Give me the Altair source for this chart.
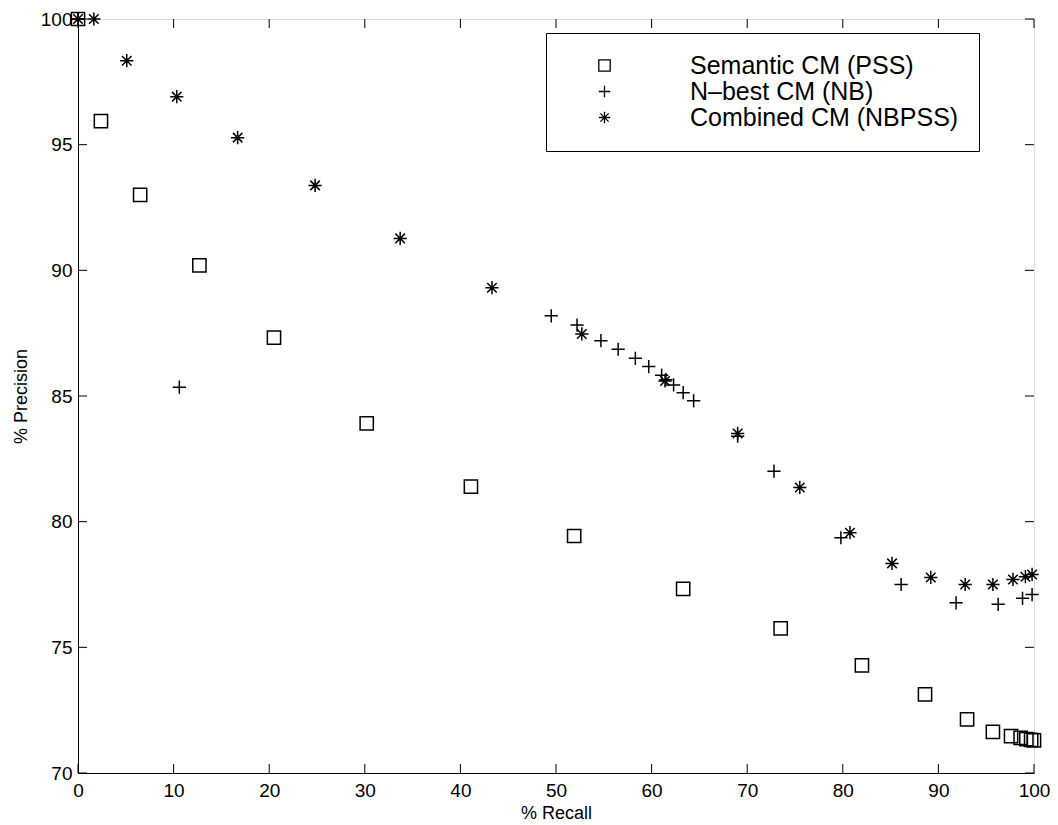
import altair as alt
import pandas as pd

# ---- data ----
series_names = ["Semantic CM (PSS)", "N–best CM (NB)", "Combined CM (NBPSS)"]

pss_x = [0, 2.4, 6.5, 12.7, 20.5, 30.2, 41.1, 51.9, 63.3, 73.5, 82.0, 88.6, 93.0, 95.7, 97.6, 98.6, 99.2, 99.7, 100.0]
pss_y = [100, 95.94, 93.0, 90.2, 87.32, 83.91, 81.39, 79.43, 77.33, 75.75, 74.28, 73.13, 72.13, 71.64, 71.47, 71.4, 71.35, 71.32, 71.3]

nb_x = [0, 10.6, 49.5, 52.2, 54.7, 56.5, 58.3, 59.7, 61.05, 61.5, 62.3, 63.3, 64.4, 69.0, 72.8, 79.8, 86.1, 91.85, 96.25, 98.8, 99.8]
nb_y = [100, 85.35, 88.19, 87.82, 87.2, 86.86, 86.5, 86.17, 85.83, 85.65, 85.44, 85.13, 84.81, 83.4, 82.01, 79.36, 77.5, 76.77, 76.71, 76.95, 77.1]

nbpss_x = [0, 1.66, 5.1, 10.33, 16.7, 24.8, 33.7, 43.3, 52.7, 61.4, 69.0, 75.5, 80.75, 85.15, 89.2, 92.8, 95.7, 97.8, 99.1, 99.8]
nbpss_y = [100, 100, 98.34, 96.91, 95.28, 93.38, 91.27, 89.31, 87.47, 85.6, 83.51, 81.36, 79.56, 78.34, 77.78, 77.5, 77.5, 77.7, 77.81, 77.9]

x_ticks = [0, 10, 20, 30, 40, 50, 60, 70, 80, 90, 100]
y_ticks = [70, 75, 80, 85, 90, 95, 100]

rows = []
for name, xs, ys in zip(series_names, [pss_x, nb_x, nbpss_x], [pss_y, nb_y, nbpss_y]):
    for a, b in zip(xs, ys):
        rows.append({"series": name, "recall": a, "precision": b})
df = pd.DataFrame(rows)

W, H = 956, 754
TICK = 9
FONT = "Liberation Sans"

xscale = alt.Scale(domain=[0, 100], nice=False, zero=False)
yscale = alt.Scale(domain=[70, 100], nice=False, zero=False)

x_axis = alt.Axis(values=x_ticks, title="% Recall", format="d", tickSize=0, grid=False,
                  labelFont=FONT, labelFontSize=19, labelColor="black", labelPadding=8,
                  titleFont=FONT, titleFontSize=18, titleFontWeight="normal", titleColor="black",
                  titlePadding=4, domainColor="black", labelFlush=False)
y_axis = alt.Axis(values=y_ticks, title="% Precision", format="d", tickSize=0, grid=False,
                  labelFont=FONT, labelFontSize=19, labelColor="black", labelPadding=6,
                  titleFont=FONT, titleFontSize=18, titleFontWeight="normal", titleColor="black",
                  titlePadding=10, domainColor="black", labelFlush=False)

plus_path = "M-1,0L1,0M0,-1L0,1"
star_path = "M-1,0L1,0M0,-1L0,1M-0.72,-0.72L0.72,0.72M-0.72,0.72L0.72,-0.72"

points = alt.Chart(df).mark_point(filled=False, color="black", strokeWidth=1.5, size=175, opacity=1).encode(
    x=alt.X("recall:Q", scale=xscale, axis=x_axis),
    y=alt.Y("precision:Q", scale=yscale, axis=y_axis),
    shape=alt.Shape("series:N",
                    scale=alt.Scale(domain=series_names, range=["square", plus_path, star_path]),
                    legend=alt.Legend(title=None, orient="none", legendX=468, legendY=14,
                                      strokeColor="black", fillColor="white", padding=20,
                                      labelFont=FONT, labelFontSize=25, labelColor="black",
                                      labelLimit=500,
                                      symbolSize=130, symbolStrokeWidth=1.3,
                                      symbolStrokeColor="black", symbolFillColor="transparent",
                                      symbolOffset=26, labelOffset=73, rowPadding=-5)),
)

xt = pd.DataFrame({"recall": x_ticks})
yt = pd.DataFrame({"precision": y_ticks})

bottom_ticks = alt.Chart(xt).mark_rule(color="black", strokeWidth=1).encode(
    x=alt.X("recall:Q", scale=xscale, axis=x_axis), y=alt.value(H), y2=alt.value(H - TICK))
top_ticks = alt.Chart(xt).mark_rule(color="black", strokeWidth=1).encode(
    x=alt.X("recall:Q", scale=xscale, axis=x_axis), y=alt.value(0), y2=alt.value(TICK))
left_ticks = alt.Chart(yt).mark_rule(color="black", strokeWidth=1).encode(
    y=alt.Y("precision:Q", scale=yscale, axis=y_axis), x=alt.value(0), x2=alt.value(TICK))
right_ticks = alt.Chart(yt).mark_rule(color="black", strokeWidth=1).encode(
    y=alt.Y("precision:Q", scale=yscale, axis=y_axis), x=alt.value(W - TICK), x2=alt.value(W))

chart = alt.layer(bottom_ticks, top_ticks, left_ticks, right_ticks, points).properties(
    width=W, height=H,
    autosize=alt.AutoSizeParams(type="none"),
    padding={"left": 70, "top": 11, "right": 16, "bottom": 50},
).configure_view(stroke="black", strokeWidth=1).configure(background="white")

chart.save("out.html", embed_options={"renderer": "svg", "actions": False})
